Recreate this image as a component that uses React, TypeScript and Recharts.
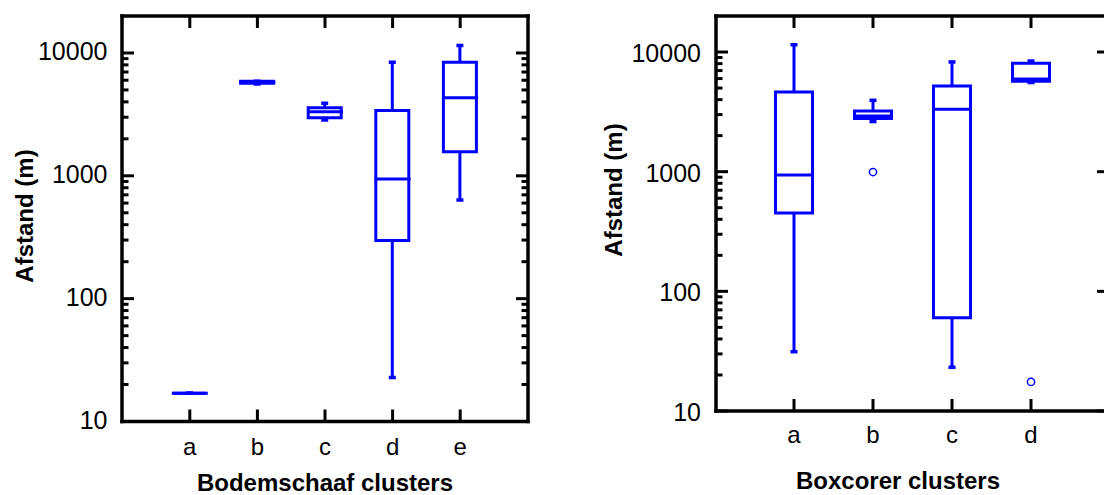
import React from 'react';
import { ComposedChart, Bar, Scatter, XAxis, YAxis } from 'recharts';

const BLUE = '#0000ff';
const INK = '#000000';
const FONT = '"Liberation Sans", Arial, Helvetica, sans-serif';

// Shared logarithmic distance axis
const yDomain = [10, 20000];
const decadeTicks = [10, 100, 1000, 10000];
const minorTicks = [
  20, 30, 40, 50, 60, 70, 80, 90,
  200, 300, 400, 500, 600, 700, 800, 900,
  2000, 3000, 4000, 5000, 6000, 7000, 8000, 9000,
];

// Bodemschaaf clusters (distance in m)
const bodemCategories = ['a', 'b', 'c', 'd', 'e'];
const bodemMin = [17, 5600, 2850, 22.8, 637];
const bodemQ1 = [17, 5670, 2970, 297, 1570];
const bodemMedian = [17, 5780, 3330, 940, 4330];
const bodemQ3 = [17, 5880, 3590, 3400, 8400];
const bodemMax = [17, 5900, 3890, 8400, 11500];
const bodemOutliers = [null, null, null, null, null];

// Boxcorer clusters (distance in m)
const boxCategories = ['a', 'b', 'c', 'd'];
const boxMin = [31.3, 2625, 23.2, 5560];
const boxQ1 = [451, 2780, 60.3, 5690];
const boxMedian = [937, 2925, 3325, 5960];
const boxQ3 = [4630, 3220, 5200, 8050];
const boxMax = [11500, 3950, 8260, 8410];
const boxOutliers = [null, 993, null, 17.5];

type Row = {
  cat: string;
  whisker: [number, number];
  box: [number, number];
  median: number;
  outlier: number | null;
};

function buildRows(
  categories: string[],
  min: number[],
  q1: number[],
  median: number[],
  q3: number[],
  max: number[],
  outliers: (number | null)[],
): Row[] {
  return categories.map((cat, i) => ({
    cat,
    whisker: [min[i], max[i]],
    box: [q1[i], q3[i]],
    median: median[i],
    outlier: outliers[i],
  }));
}

const bodemRows = buildRows(bodemCategories, bodemMin, bodemQ1, bodemMedian, bodemQ3, bodemMax, bodemOutliers);
const boxRows = buildRows(boxCategories, boxMin, boxQ1, boxMedian, boxQ3, boxMax, boxOutliers);

const allTicks = [...decadeTicks, ...minorTicks].sort((a, b) => a - b);

const ok = (...v: number[]) => v.every((n) => Number.isFinite(n));

const makeWhiskerShape = (capHalf: number) => (props: any) => {
  const { x, y, width, height } = props;
  if (!ok(x, y, width, height)) return <g />;
  const cx = x + width / 2;
  const top = Math.min(y, y + height);
  const bot = Math.max(y, y + height);
  return (
    <g>
      <line x1={cx} x2={cx} y1={top} y2={bot} stroke={BLUE} strokeWidth={3} />
      <line x1={cx - capHalf} x2={cx + capHalf} y1={top} y2={top} stroke={BLUE} strokeWidth={3.5} />
      <line x1={cx - capHalf} x2={cx + capHalf} y1={bot} y2={bot} stroke={BLUE} strokeWidth={3.5} />
    </g>
  );
};

const BoxShape = (props: any) => {
  const { x, y, width, height } = props;
  if (!ok(x, y, width, height)) return <g />;
  const top = Math.min(y, y + height);
  const bot = Math.max(y, y + height);
  return (
    <path
      d={`M${x},${top}H${x + width}V${bot}H${x}Z`}
      fill="#ffffff"
      stroke={BLUE}
      strokeWidth={3}
      strokeLinejoin="miter"
    />
  );
};

const makeMedianShape = (half: number) => (props: any) => {
  const { cx, cy } = props;
  if (!ok(cx, cy)) return <g />;
  return (
    <line x1={cx - half} x2={cx + half} y1={cy} y2={cy} stroke={BLUE} strokeWidth={3} strokeLinecap="square" />
  );
};

const OutlierShape = (props: any) => {
  const { cx, cy, payload } = props;
  if (!payload || payload.outlier == null || !ok(cx, cy)) return <g />;
  return <circle cx={cx} cy={cy} r={3.6} fill="#ffffff" stroke={BLUE} strokeWidth={1.5} />;
};

const makeYTick = (side: 'left' | 'right', labelGap: number | null, labelDy: number, minors: boolean) =>
  (props: any) => {
    const { x, y, payload } = props;
    const v = payload.value;
    const major = decadeTicks.includes(v);
    if (!major && !minors) return <g />;
    const len = major ? 12 : 6.5;
    const dir = side === 'left' ? 1 : -1;
    return (
      <g>
        <line x1={x} x2={x + dir * len} y1={y} y2={y} stroke={INK} strokeWidth={3} />
        {labelGap !== null && major && (
          <text x={x - labelGap} y={y + labelDy} textAnchor="end" fontSize={25} fontFamily={FONT} fill={INK}>
            {String(v)}
          </text>
        )}
      </g>
    );
  };

const TopTick = (props: any) => {
  const { x, y } = props;
  return <line x1={x} x2={x} y1={y} y2={y + 12} stroke={INK} strokeWidth={3} />;
};

const makeBottomTick = (labelDy: number) => (props: any) => {
  const { x, y, payload } = props;
  return (
    <g>
      <line x1={x} x2={x} y1={y} y2={y - 12} stroke={INK} strokeWidth={3} />
      <text x={x} y={y + labelDy} textAnchor="middle" fontSize={24} fontFamily={FONT} fill={INK}>
        {payload.value}
      </text>
    </g>
  );
};

const frameLine = { stroke: INK, strokeWidth: 3.5, strokeLinecap: 'square' as const };

type PanelProps = {
  rows: Row[];
  width: number;
  height: number;
  leftAxisW: number;
  rightAxisW: number;
  topAxisH: number;
  bottomAxisH: number;
  pad: number;
  barSize: number;
  catDy: number;
  tickLabelGap: number;
  tickLabelDy: number;
  rightMinors: boolean;
  xTitle: string;
  xTitleX: number;
  xTitleY: number;
  yTitleX: number;
  yTitleY: number;
  showOutliers: boolean;
};

function BoxPanel(p: PanelProps) {
  const xTitle = () => (
    <text x={p.xTitleX} y={p.xTitleY} textAnchor="middle" fontSize={24} fontWeight="bold" fontFamily={FONT} fill={INK}>
      {p.xTitle}
    </text>
  );
  const yTitle = () => (
    <text
      x={p.yTitleX}
      y={p.yTitleY}
      transform={`rotate(-90 ${p.yTitleX} ${p.yTitleY})`}
      textAnchor="middle"
      dominantBaseline="central"
      fontSize={24}
      fontWeight="bold"
      fontFamily={FONT}
      fill={INK}
    >
      Afstand (m)
    </text>
  );
  const common = {
    dataKey: 'cat',
    type: 'category' as const,
    padding: { left: p.pad, right: p.pad },
    allowDuplicatedCategory: false,
    interval: 0,
    tickSize: 0,
    tickMargin: 0,
    tickLine: false,
  };
  const yCommon = {
    type: 'number' as const,
    scale: 'log' as const,
    domain: yDomain,
    allowDataOverflow: true,
    ticks: allTicks,
    interval: 0,
    tickSize: 0,
    tickMargin: 0,
    tickLine: false,
    axisLine: frameLine,
  };
  return (
    <ComposedChart
      width={p.width}
      height={p.height}
      data={p.rows}
      margin={{ top: 0, right: 0, bottom: 0, left: 0 }}
    >
      <XAxis
        {...common}
        xAxisId="main"
        orientation="bottom"
        height={p.bottomAxisH}
        axisLine={frameLine}
        tick={makeBottomTick(p.catDy)}
        label={xTitle}
      />
      <XAxis
        {...common}
        xAxisId="top"
        orientation="top"
        height={p.topAxisH}
        axisLine={frameLine}
        tick={TopTick}
      />
      <YAxis
        {...yCommon}
        yAxisId="y"
        orientation="left"
        width={p.leftAxisW}
        tick={makeYTick('left', p.tickLabelGap, p.tickLabelDy, true)}
        label={yTitle}
      />
      <YAxis
        {...yCommon}
        yAxisId="yr"
        orientation="right"
        width={p.rightAxisW}
        tick={makeYTick('right', null, 0, p.rightMinors)}
      />
      <Bar
        dataKey="whisker"
        xAxisId="main"
        yAxisId="y"
        barSize={p.barSize}
        shape={makeWhiskerShape(3.5)}
        isAnimationActive={false}
      />
      <Bar
        dataKey="box"
        xAxisId="top"
        yAxisId="y"
        barSize={p.barSize}
        shape={BoxShape}
        isAnimationActive={false}
      />
      <Scatter
        dataKey="median"
        xAxisId="main"
        yAxisId="yr"
        shape={makeMedianShape(p.barSize / 2)}
        isAnimationActive={false}
      />
      {p.showOutliers && (
        <Scatter
          dataKey="outlier"
          xAxisId="main"
          yAxisId="y"
          shape={OutlierShape}
          isAnimationActive={false}
        />
      )}
    </ComposedChart>
  );
}

export default function App() {
  return (
    <div
      style={{
        position: 'absolute',
        left: 0,
        top: 0,
        width: 1104,
        height: 495,
        overflow: 'hidden',
        background: '#ffffff',
      }}
    >
      <div style={{ position: 'absolute', left: 0, top: 0 }}>
        <BoxPanel
          rows={bodemRows}
          width={560}
          height={495}
          leftAxisW={122}
          rightAxisW={32}
          topAxisH={16}
          bottomAxisH={73.5}
          pad={34}
          barSize={33}
          catDy={33.5}
          tickLabelGap={14.5}
          tickLabelDy={7}
          rightMinors={true}
          xTitle="Bodemschaaf clusters"
          xTitleX={325}
          xTitleY={491}
          yTitleX={24}
          yTitleY={216}
          showOutliers={false}
        />
      </div>
      <div style={{ position: 'absolute', left: 560, top: 0 }}>
        <BoxPanel
          rows={boxRows}
          width={569}
          height={495}
          leftAxisW={156}
          rightAxisW={20}
          topAxisH={16}
          bottomAxisH={84}
          pad={38.5}
          barSize={37}
          catDy={31.7}
          tickLabelGap={15}
          tickLabelDy={10}
          rightMinors={false}
          xTitle="Boxcorer clusters"
          xTitleX={338}
          xTitleY={489}
          yTitleX={53}
          yTitleY={190}
          showOutliers={true}
        />
      </div>
    </div>
  );
}
